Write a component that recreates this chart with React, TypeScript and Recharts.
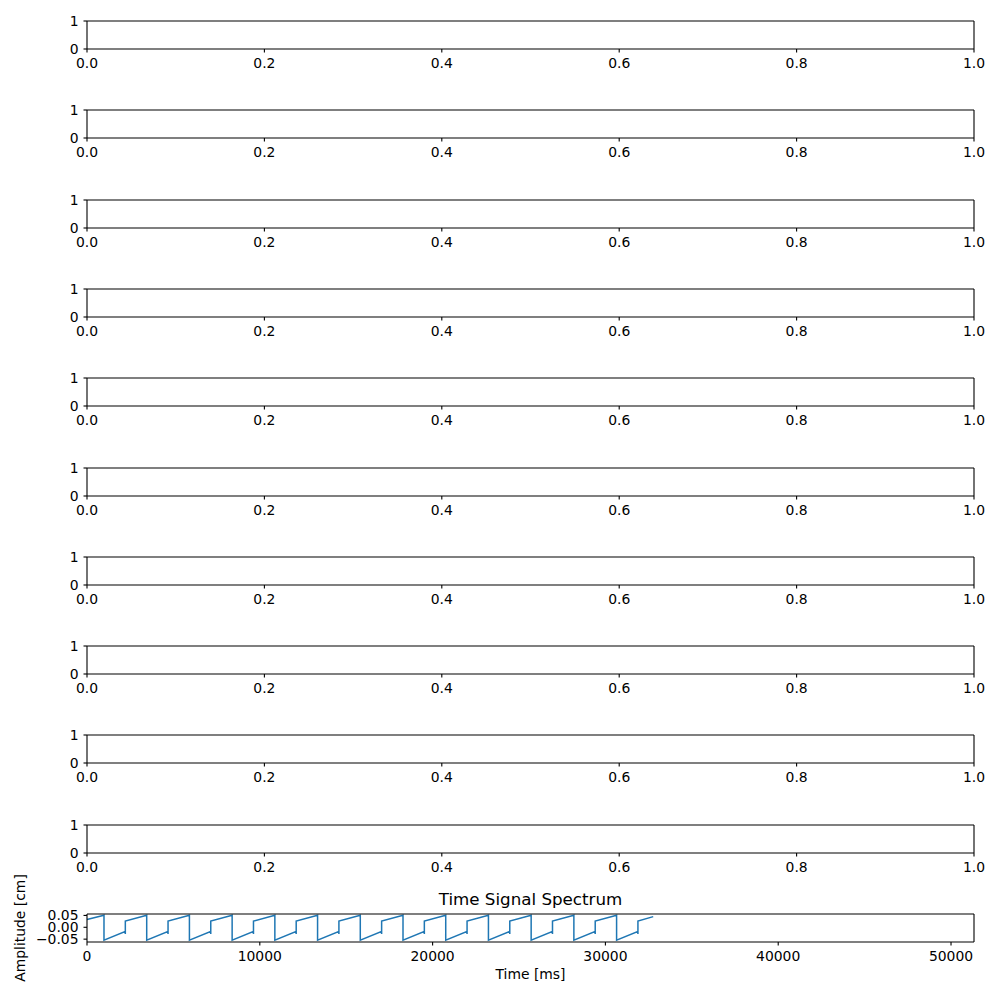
import React from "react";
import { LineChart, Line, XAxis, YAxis } from "recharts";

// empty subplot axes (matplotlib defaults 0..1)
const EMPTY_X_TICKS = [0, 0.2, 0.4, 0.6, 0.8, 1.0];
const EMPTY_Y_TICKS = [0, 1];
const EMPTY_ROWS = [{ x: 0, y: 0 }, { x: 1, y: 1 }];

// bottom subplot: time signal [ms, cm]
const SIGNAL: [number, number][] = [
  [0, 0.033],
  [983, 0.051], [983, -0.054], [2200, -0.018], [2218, -0.028], [2218, 0.026],
  [3455, 0.051], [3455, -0.054], [4672, -0.018], [4690, -0.028], [4690, 0.026],
  [5927, 0.051], [5927, -0.054], [7144, -0.018], [7162, -0.028], [7162, 0.026],
  [8399, 0.051], [8399, -0.054], [9616, -0.018], [9634, -0.028], [9634, 0.026],
  [10871, 0.051], [10871, -0.054], [12088, -0.018], [12106, -0.028], [12106, 0.026],
  [13343, 0.051], [13343, -0.054], [14560, -0.018], [14578, -0.028], [14578, 0.026],
  [15815, 0.051], [15815, -0.054], [17032, -0.018], [17050, -0.028], [17050, 0.026],
  [18287, 0.051], [18287, -0.054], [19504, -0.018], [19522, -0.028], [19522, 0.026],
  [20759, 0.051], [20759, -0.054], [21976, -0.018], [21994, -0.028], [21994, 0.026],
  [23231, 0.051], [23231, -0.054], [24448, -0.018], [24466, -0.028], [24466, 0.026],
  [25703, 0.051], [25703, -0.054], [26920, -0.018], [26938, -0.028], [26938, 0.026],
  [28175, 0.051], [28175, -0.054], [29392, -0.018], [29410, -0.028], [29410, 0.026],
  [30647, 0.051], [30647, -0.054], [31864, -0.018], [31882, -0.028], [31882, 0.026],
  [32767, 0.045],
];
const TIME_TICKS = [0, 10000, 20000, 30000, 40000, 50000];
const AMP_TICKS = [-0.05, 0, 0.05];

const signalRows = SIGNAL.map(([t, amp]) => ({ t, amp }));

const FONT = "DejaVu Sans";
const TICK = { fill: "#000", fontSize: 13.9, fontFamily: FONT };
const AXIS = { stroke: "#000", strokeWidth: 1.1 };
const PANEL_TOPS = [21, 110, 200, 289, 378, 468, 557, 646, 735, 825];
const PLOT_H = 28;

function EmptyPanel({ top }: { top: number }) {
  return (
    <div style={{ position: "absolute", left: 0, top: top - 10 }}>
      <LineChart width={1000} height={10 + PLOT_H + 30} data={EMPTY_ROWS}
        margin={{ top: 9, right: 25, bottom: 0, left: 0 }}>
        <XAxis dataKey="x" type="number" domain={[0, 1]} ticks={EMPTY_X_TICKS}
          tickFormatter={(v) => Number(v).toFixed(1)} tick={TICK} axisLine={AXIS}
          tickLine={AXIS} tickSize={3.5} tickMargin={6} height={30} interval={0} />
        <XAxis xAxisId="top" orientation="top" dataKey="x" type="number" domain={[0, 1]}
          tick={false} tickLine={false} axisLine={AXIS} height={1} />
        <YAxis dataKey="y" type="number" domain={[0, 1]} ticks={EMPTY_Y_TICKS} tick={TICK}
          axisLine={AXIS} tickLine={AXIS} tickSize={3.5} tickMargin={5} width={87} interval={0} />
        <YAxis yAxisId="right" orientation="right" dataKey="y" type="number" domain={[0, 1]}
          tick={false} tickLine={false} axisLine={AXIS} width={1} />
      </LineChart>
    </div>
  );
}

function SignalPanel() {
  const chartTop = 860;
  const axesTop = 914;
  return (
    <>
      <div style={{
        position: "absolute", left: 87, width: 887, top: 889, textAlign: "center",
        fontFamily: FONT, fontSize: 16.7, lineHeight: "20px", color: "#000",
      }}>
        Time Signal Spectrum
      </div>
      <div style={{ position: "absolute", left: 0, top: chartTop }}>
        <LineChart width={1000} height={140} data={signalRows}
          margin={{ top: axesTop - chartTop - 1, right: 25, bottom: 0, left: 0 }}
          style={{ overflow: "visible" }}>
          <XAxis dataKey="t" type="number" domain={[0, 51330]} ticks={TIME_TICKS}
            tick={TICK} axisLine={AXIS} tickLine={AXIS} tickSize={3.5} tickMargin={6}
            height={140 - (axesTop - chartTop) - PLOT_H} interval={0}
            label={{ value: "Time [ms]", position: "insideTop", offset: 27, fill: "#000", fontSize: 13.9, fontFamily: FONT }} />
          <XAxis xAxisId="top" orientation="top" dataKey="t" type="number" domain={[0, 51330]}
            tick={false} tickLine={false} axisLine={AXIS} height={1} />
          <YAxis dataKey="amp" type="number" domain={[-0.062, 0.056]} ticks={AMP_TICKS}
            tickFormatter={(v) => Number(v).toFixed(2).replace("-", "\u2212")}
            tick={TICK} axisLine={AXIS} tickLine={AXIS} tickSize={3.5} tickMargin={5}
            width={87} interval={0} allowDataOverflow
            label={{ value: "Amplitude [cm]", angle: -90, position: "center", dx: -23.5, fill: "#000", fontSize: 13.9, fontFamily: FONT }} />
          <YAxis yAxisId="right" orientation="right" dataKey="amp" type="number" domain={[-0.062, 0.056]}
            tick={false} tickLine={false} axisLine={AXIS} width={1} allowDataOverflow />
          <Line type="linear" dataKey="amp" stroke="#1f77b4" strokeWidth={1.5}
            dot={false} isAnimationActive={false} />
        </LineChart>
      </div>
    </>
  );
}

export default function App() {
  return (
    <div style={{ position: "absolute", left: 0, top: 0, width: 1000, height: 1000, background: "#fff" }}>
      {PANEL_TOPS.map((top) => <EmptyPanel key={top} top={top} />)}
      <SignalPanel />
    </div>
  );
}
